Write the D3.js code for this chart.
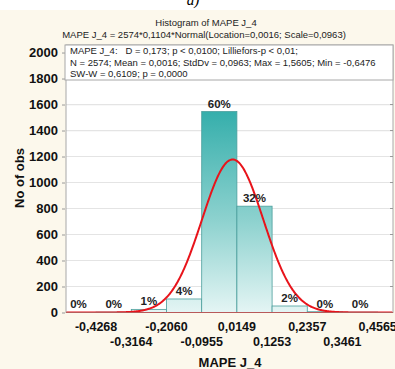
<!DOCTYPE html>
<html>
<head>
<meta charset="utf-8">
<script src="https://cdn.jsdelivr.net/npm/d3@7"></script>
<style>
  body { margin: 0; background: #fcf8ec; }
  svg text { font-family: Arial, "Liberation Sans", sans-serif; }
</style>
</head>
<body>
<div id="chart"></div>
<script>
// bin edges (lower edge of each visible bin) and counts
var binStarts = [-0.5372, -0.4268, -0.3164, -0.2060, -0.0955, 0.0149, 0.1253, 0.2357, 0.3461];
var binWidth = 0.1104;
var counts = [1, 3, 24, 104, 1546, 818, 50, 6, 3];
var nObs = 2574;

// fitted normal: N * binWidth * Normal(loc, scale)
var fitLoc = 0.0016, fitScale = 0.0963;

var xTickValues = [-0.4268, -0.3164, -0.2060, -0.0955, 0.0149, 0.1253, 0.2357, 0.3461, 0.4565];
var xTickLabels = ["-0,4268", "-0,3164", "-0,2060", "-0,0955", "0,0149", "0,1253", "0,2357", "0,3461", "0,4565"];
var yTicks = [0, 200, 400, 600, 800, 1000, 1200, 1400, 1600, 1800, 2000];

var statLines = [
    "MAPE J_4:   D = 0,173; p < 0,0100; Lilliefors-p < 0,01;",
    "N = 2574; Mean = 0,0016; StdDv = 0,0963; Max = 1,5605; Min = -0,6476",
    "SW-W = 0,6109; p = 0,0000"
];

var W = 395, H = 369;
var plot = { left: 66, right: 393, top: 45, bottom: 312.5 };

var svg = d3.select("#chart").append("svg")
    .attr("width", W).attr("height", H);

svg.append("rect").attr("width", W).attr("height", H).attr("fill", "#fcf8ec");
svg.append("rect").attr("width", W).attr("height", 10).attr("fill", "#ffffff");

// "a)" caption, cut off at the top like in the source
svg.append("text").attr("x", 193).attr("y", 5)
    .attr("text-anchor", "middle")
    .style("font-family", "'Liberation Serif', 'Times New Roman', serif")
    .style("font-style", "italic").style("font-size", "15px")
    .text("a)");

var x = d3.scaleLinear().domain([-0.5212, 0.5046]).range([plot.left, plot.right]);
var y = d3.scaleLinear().domain([0, 2058]).range([plot.bottom, plot.top]);

// gradient for bars
var defs = svg.append("defs");
var grad = defs.append("linearGradient").attr("id", "barGrad")
    .attr("gradientUnits", "userSpaceOnUse")
    .attr("x1", 0).attr("x2", 0).attr("y1", y(1560)).attr("y2", plot.bottom);
grad.append("stop").attr("offset", "0%").attr("stop-color", "#34aeab");
grad.append("stop").attr("offset", "55%").attr("stop-color", "#8ed2cf");
grad.append("stop").attr("offset", "100%").attr("stop-color", "#e4f5f4");

defs.append("clipPath").attr("id", "plotClip").append("rect")
    .attr("x", plot.left).attr("y", plot.top)
    .attr("width", plot.right - plot.left).attr("height", plot.bottom - plot.top);

// plot background
svg.append("rect")
    .attr("x", plot.left).attr("y", plot.top)
    .attr("width", plot.right - plot.left).attr("height", plot.bottom - plot.top)
    .attr("fill", "#ffffff");

// grid lines
svg.append("g").selectAll("line")
    .data(yTicks.slice(1))
    .enter().append("line")
    .attr("x1", plot.left).attr("x2", plot.right)
    .attr("y1", function(d) { return y(d); })
    .attr("y2", function(d) { return y(d); })
    .attr("stroke", "#e4e4e4").attr("stroke-width", 1.2);

var g = svg.append("g").attr("clip-path", "url(#plotClip)");

// bars
g.selectAll("rect.bar")
    .data(counts)
    .enter().append("rect")
    .attr("class", "bar")
    .attr("x", function(d, i) { return x(binStarts[i]); })
    .attr("width", function(d, i) { return x(binStarts[i] + binWidth) - x(binStarts[i]); })
    .attr("y", function(d) { return y(d); })
    .attr("height", function(d) { return plot.bottom - y(d); })
    .attr("fill", "url(#barGrad)")
    .attr("stroke", "#4a9e9c").attr("stroke-width", 0.8);

// fitted normal curve
var normal = function(v) {
    var z = (v - fitLoc) / fitScale;
    return nObs * binWidth * Math.exp(-0.5 * z * z) / (fitScale * Math.sqrt(2 * Math.PI));
};
var xs = d3.range(x.domain()[0], x.domain()[1], 0.002);
var line = d3.line()
    .x(function(d) { return x(d); })
    .y(function(d) { return y(normal(d)); })
    .curve(d3.curveBasis);
g.append("path").datum(xs)
    .attr("d", line)
    .attr("fill", "none")
    .attr("stroke", "#e8141b").attr("stroke-width", 2);

// percentage labels
svg.append("g").selectAll("text")
    .data(counts)
    .enter().append("text")
    .attr("x", function(d, i) { return x(binStarts[i] + binWidth / 2); })
    .attr("y", function(d) { return y(d) - 4; })
    .attr("text-anchor", "middle")
    .style("font-size", "11.5px").style("font-weight", "bold").style("fill", "#222")
    .text(function(d) { return Math.round(d / nObs * 100) + "%"; });

// plot frame
svg.append("rect")
    .attr("x", plot.left).attr("y", plot.top)
    .attr("width", plot.right - plot.left).attr("height", plot.bottom - plot.top)
    .attr("fill", "none").attr("stroke", "#a8a8a8").attr("stroke-width", 1);
svg.append("line")
    .attr("x1", plot.left).attr("x2", plot.right)
    .attr("y1", plot.bottom).attr("y2", plot.bottom)
    .attr("stroke", "#b85a5a").attr("stroke-width", 1.2);

// y axis
var yAxis = d3.axisLeft(y).tickValues(yTicks).tickFormat(d3.format("d")).tickSize(3).tickPadding(4);
var ya = svg.append("g").attr("transform", "translate(" + (plot.left - 1) + ",0)").call(yAxis);
ya.select(".domain").remove();
ya.selectAll("line").attr("stroke", "#999");
ya.selectAll("text").style("font-size", "13px").style("font-weight", "bold")
    .style("font-family", "Arial, 'Liberation Sans', sans-serif").attr("fill", "#111");

// right side small ticks
svg.append("g").selectAll("line")
    .data(yTicks.slice(1))
    .enter().append("line")
    .attr("x1", plot.right - 3).attr("x2", plot.right)
    .attr("y1", function(d) { return y(d); })
    .attr("y2", function(d) { return y(d); })
    .attr("stroke", "#999");

// x axis labels in two staggered rows
svg.append("g").selectAll("text")
    .data(xTickValues)
    .enter().append("text")
    .attr("x", function(d) { return x(d); })
    .attr("y", function(d, i) { return i % 2 === 0 ? 331 : 346; })
    .attr("text-anchor", "middle")
    .style("font-size", "12.5px").style("font-weight", "bold").style("fill", "#111")
    .text(function(d, i) { return xTickLabels[i]; });

// axis titles
svg.append("text")
    .attr("transform", "translate(24," + 178 + ") rotate(-90)")
    .attr("text-anchor", "middle")
    .style("font-size", "13px").style("font-weight", "bold").style("fill", "#111")
    .text("No of obs");
svg.append("text")
    .attr("x", 230).attr("y", 367)
    .attr("text-anchor", "middle")
    .style("font-size", "13px").style("font-weight", "bold").style("fill", "#111")
    .text("MAPE J_4");

// titles
svg.append("text").attr("x", 206).attr("y", 26)
    .attr("text-anchor", "middle")
    .style("font-size", "9.5px").style("fill", "#222")
    .text("Histogram of MAPE J_4");
svg.append("text").attr("x", 204).attr("y", 38)
    .attr("text-anchor", "middle")
    .style("font-size", "9.5px").style("fill", "#222")
    .text("MAPE J_4 = 2574*0,1104*Normal(Location=0,0016; Scale=0,0963)");

// stats box
svg.append("rect")
    .attr("x", plot.left - 1).attr("y", plot.top)
    .attr("width", plot.right - plot.left + 1).attr("height", 35)
    .attr("fill", "#ffffff").attr("stroke", "#a8a8a8");
svg.append("g").selectAll("text")
    .data(statLines)
    .enter().append("text")
    .attr("x", plot.left + 4)
    .attr("y", function(d, i) { return plot.top + 9 + i * 11.5; })
    .style("font-size", "9.5px").style("fill", "#222")
    .attr("xml:space", "preserve")
    .style("white-space", "pre")
    .text(function(d) { return d; });
</script>
</body>
</html>
